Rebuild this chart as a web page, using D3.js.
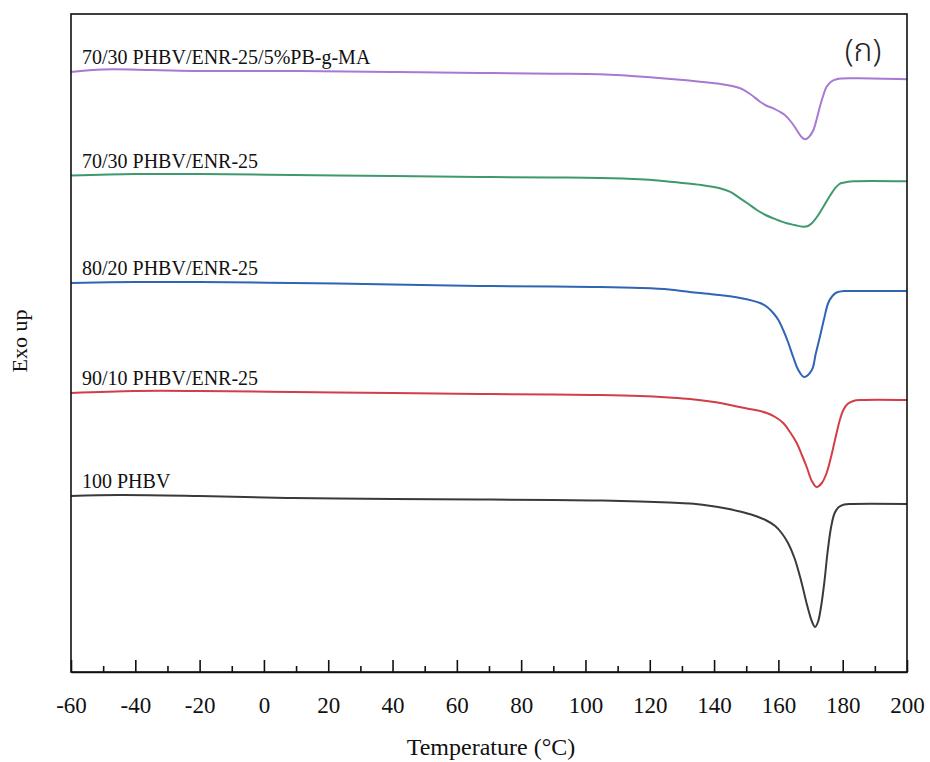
<!DOCTYPE html>
<html>
<head>
<meta charset="utf-8">
<script src="https://cdn.jsdelivr.net/npm/d3@7"></script>
<style>
  html, body { margin: 0; padding: 0; background: #fff; }
  svg { display: block; }
  .serif { font-family: "Liberation Serif", "Times New Roman", serif; fill: #111; }
</style>
</head>
<body>
<svg id="chart" width="930" height="762"></svg>
<script>
// DSC heating traces: [temperature °C, heat flow (a.u., stacked offsets)]
const pbgma7030 = [
  [-60, 60.0], [-50, 60.25], [-35, 60.2], [-20, 60.1], [11, 60.1], [40, 60.0],
  [67, 59.9], [90, 59.83], [104.5, 59.77], [120.1, 59.47], [135.6, 59.03],
  [142, 58.8], [148.1, 58.37], [151.2, 57.8], [154.3, 57.03], [156.5, 56.6],
  [158.4, 56.37], [160.3, 56.05], [162.0, 55.7], [164, 55.0], [165.7, 54.2],
  [167.2, 53.5], [168.3, 53.27], [169.5, 53.5], [170.9, 54.2], [172.0, 55.4],
  [172.9, 56.53], [174.0, 57.7], [175.0, 58.53], [176.5, 59.05], [178.1, 59.27],
  [183.3, 59.37], [200, 59.27]
];
const enr7030 = [
  [-60, 49.65], [-40, 49.8], [-20, 49.8], [9, 49.7], [40, 49.6], [67, 49.5],
  [90, 49.45], [104.5, 49.4], [117, 49.27], [124, 49.1], [129.4, 48.93],
  [136, 48.7], [141.8, 48.37], [144.9, 48.03], [148.1, 47.37], [150.7, 46.8],
  [153.3, 46.2], [156, 45.7], [158.4, 45.37], [160.5, 45.1], [162.6, 44.87],
  [165, 44.7], [167.7, 44.53], [169.2, 44.6], [170.4, 44.87], [172.2, 45.6],
  [174.0, 46.53], [175.8, 47.5], [177.6, 48.37], [179, 48.8], [180.2, 48.93],
  [183.3, 49.07], [200, 49.07]
];
const enr8020 = [
  [-60, 38.9], [-40, 39.0], [-20, 39.0], [9, 38.9], [40, 38.75], [67, 38.6],
  [90, 38.55], [104.5, 38.5], [117, 38.4], [126, 38.25], [132.5, 38.0],
  [140, 37.75], [148.1, 37.4], [154.3, 36.9], [156.5, 36.5], [158.4, 35.9],
  [160, 35.2], [161.5, 34.2], [163, 33.0], [164.6, 31.5], [166.2, 30.2],
  [168.0, 29.5], [170.4, 30.2], [171.6, 31.8], [172.9, 33.5], [174.2, 35.3],
  [175.5, 36.9], [176.8, 37.6], [178.1, 37.95], [180.5, 38.1], [183.3, 38.1],
  [200, 38.1]
];
const enr9010 = [
  [-60, 27.9], [-40, 28.1], [-20, 28.1], [9, 28.0], [40, 27.9], [67, 27.8],
  [90, 27.75], [104.5, 27.7], [117, 27.6], [126, 27.45], [132.5, 27.3],
  [140, 27.0], [148, 26.5], [152, 26.25], [156.4, 25.9], [159, 25.5],
  [161.5, 24.9], [163.6, 24.0], [165.7, 22.9], [167.3, 21.7], [168.8, 20.5],
  [170.4, 19.1], [171.9, 18.5], [173.5, 18.9], [175.0, 19.9], [176.6, 21.8],
  [178.1, 23.9], [179.2, 25.3], [180.2, 26.2], [181.5, 26.8], [183.3, 27.1],
  [186, 27.2], [200, 27.2]
];
const phbv100 = [
  [-60, 17.6], [-45, 17.7], [-20, 17.6], [9, 17.4], [40, 17.3], [67, 17.25],
  [90, 17.2], [104.5, 17.15], [117, 17.05], [126, 16.95], [132.5, 16.85],
  [138, 16.65], [143, 16.4], [148, 16.05], [152, 15.7], [156, 15.2],
  [159, 14.6], [161, 13.9], [163, 12.9], [165, 11.4], [167, 9.2], [169, 6.6],
  [170.5, 5.0], [171.4, 4.5], [172.3, 5.0], [173.3, 6.6], [174.3, 9.0],
  [175.3, 12.0], [176.4, 14.5], [177.5, 15.9], [178.8, 16.5], [180.5, 16.75],
  [183, 16.8], [200, 16.8]
];

const seriesNames = [
  "70/30 PHBV/ENR-25/5%PB-g-MA",
  "70/30 PHBV/ENR-25",
  "80/20 PHBV/ENR-25",
  "90/10 PHBV/ENR-25",
  "100 PHBV"
];
const seriesData = [pbgma7030, enr7030, enr8020, enr9010, phbv100];
const seriesColors = ["#a779d3", "#3e9a6c", "#3064b4", "#d23d46", "#3a3a3a"];

const xTickValues = [-60, -40, -20, 0, 20, 40, 60, 80, 100, 120, 140, 160, 180, 200];
const xMinorValues = d3.range(-50, 200, 20);

const xLabel = "Temperature (°C)";
const yLabel = "Exo up";
const panelTag = "(ก)";

// layout
const margin = { left: 71, right: 23, top: 14, bottom: 90 };
const W = 930, H = 762;
const plotW = W - margin.left - margin.right;
const plotH = H - margin.top - margin.bottom;

const svg = d3.select("#chart");
const g = svg.append("g").attr("transform", `translate(${margin.left},${margin.top})`);

const x = d3.scaleLinear().domain([-60, 200]).range([0, plotW]);
const y = d3.scaleLinear().domain([0, 65.8]).range([plotH, 0]);

const line = d3.line()
  .x(d => x(d[0]))
  .y(d => y(d[1]))
  .curve(d3.curveCatmullRom.alpha(0.5));

// traces
seriesData.forEach((data, i) => {
  g.append("path")
    .datum(data)
    .attr("d", line)
    .attr("fill", "none")
    .attr("stroke", seriesColors[i])
    .attr("stroke-width", 2)
    .attr("stroke-linejoin", "round");

  g.append("text")
    .attr("class", "serif")
    .attr("x", 11)
    .attr("y", y(data[0][1]) - 8)
    .attr("font-size", 20)
    .text(seriesNames[i]);
});

// frame
g.append("rect")
  .attr("x", 0).attr("y", 0)
  .attr("width", plotW).attr("height", plotH)
  .attr("fill", "none")
  .attr("stroke", "#111")
  .attr("stroke-width", 1.6);

// bottom axis: inward ticks
const xAxis = g.append("g")
  .attr("transform", `translate(0,${plotH})`)
  .call(d3.axisBottom(x).tickValues(xTickValues).tickSizeInner(-12).tickSizeOuter(0).tickPadding(25).tickFormat(d3.format("d")));
xAxis.select(".domain").attr("stroke", "#111").attr("stroke-width", 1.6);
xAxis.selectAll(".tick line").attr("stroke", "#111").attr("stroke-width", 1.6);
xAxis.selectAll(".tick text")
  .attr("font-family", "'Liberation Serif', 'Times New Roman', serif")
  .attr("font-size", 23)
  .attr("fill", "#111")
  .text(d => d < 0 ? "-" + Math.abs(d) : d);

const xMinor = g.append("g")
  .attr("transform", `translate(0,${plotH})`)
  .call(d3.axisBottom(x).tickValues(xMinorValues).tickSizeInner(-6).tickSizeOuter(0).tickFormat(""));
xMinor.select(".domain").remove();
xMinor.selectAll(".tick line").attr("stroke", "#111").attr("stroke-width", 1.6);

// axis titles
svg.append("text")
  .attr("class", "serif")
  .attr("x", margin.left + plotW / 2 + 2)
  .attr("y", 755)
  .attr("text-anchor", "middle")
  .attr("font-size", 24)
  .text(xLabel);

svg.append("text")
  .attr("class", "serif")
  .attr("transform", `translate(27,${341}) rotate(-90)`)
  .attr("text-anchor", "middle")
  .attr("font-size", 22)
  .text(yLabel);

// panel tag
svg.append("text")
  .attr("x", 863)
  .attr("y", 61)
  .attr("text-anchor", "middle")
  .attr("font-family", "'Noto Sans Thai', 'Noto Sans', 'DejaVu Sans', sans-serif")
  .attr("font-size", 32)
  .attr("font-weight", 300)
  .attr("fill", "#222")
  .text(panelTag);
</script>
</body>
</html>
